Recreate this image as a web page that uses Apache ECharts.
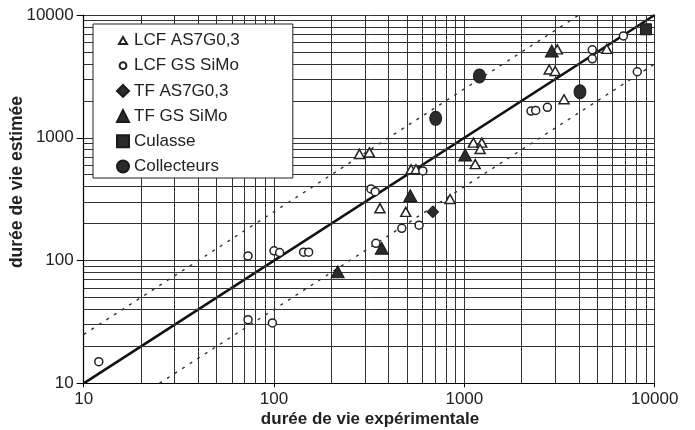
<!DOCTYPE html>
<html>
<head>
<meta charset="utf-8">
<script src="https://cdn.jsdelivr.net/npm/echarts@6.0.0/dist/echarts.min.js"></script>
<style>
html,body{margin:0;padding:0;background:#fff;}
#chart{width:695px;height:430px;}
</style>
</head>
<body>
<div id="chart"></div>
<script>
// ---- data (durée de vie expérimentale, durée de vie estimée) ----
const lcfAS7G = [[281,738],[317,760],[525,554],[557,554],[360,267],[492,249],[841,317],
  [1115,913],[1234,913],[1210,810],[1140,610],[2790,3600],[3000,3500],[3080,5250],[3340,2060],[5600,5300]];
const lcfGSSiMo = [[12,15],[73,109],[100,120],[107,116],[143,117],[152,117],[73,33],[98,31],
  [323,383],[340,364],[343,138],[469,183],[578,194],[605,537],[2240,1650],[2370,1670],[2730,1770],
  [4700,5200],[4700,4400],[6850,6750],[8100,3450]];
const tfAS7G = [[682,249]];
const tfGSSiMo = [[216,81],[368,126],[520,338],[1010,725],[2880,5100]];
const culasse = [[9000,7650]];
const collecteurs = [[707,1440],[1200,3190],[4050,2370]];

// reference lines
const lineEqual = [[10,10],[10000,10000]];
const lineUpper = [[10,25],[4000,10000]];
const lineLower = [[25,10],[10000,4000]];

// axis ticks / minor grid values
const majorTicks = [10,100,1000,10000];
const minorGrid = [20,30,40,50,60,70,80,90,200,300,400,500,600,700,800,900,2000,3000,4000,5000,6000,7000,8000,9000];

const FONT = "'Liberation Sans', Arial, sans-serif";
const INK = '#222';
const GRIDC = '#333';
const FILL = '#2b2b2b';

const chart = echarts.init(document.getElementById('chart'), null, {renderer:'canvas'});

const markData = [];
minorGrid.forEach(v => { markData.push({xAxis: v}); markData.push({yAxis: v}); });

const openStyle = {color:'#fff', borderColor:INK, borderWidth:1.5, opacity:1};
const fillStyle = {color:FILL, borderColor:'#1a1a1a', borderWidth:1, opacity:1};

// legend icons (small open markers padded inside a 12x12 box)
const iconOpenTri = 'path://M0,0M12,12M6,2.6L10,9.6L2,9.6Z';
const iconOpenCirc = 'path://M0,0M12,12M2.6,6A3.4,3.4 0 1 1 9.4,6A3.4,3.4 0 1 1 2.6,6Z';

const axisCommon = {
  type:'log', logBase:10, min:10, max:10000,
  axisLine:{show:true, lineStyle:{color:'#000', width:1.2}},
  splitLine:{show:true, lineStyle:{color:GRIDC, width:1}},
  axisLabel:{fontFamily:FONT, fontSize:17, color:INK, formatter: v => String(Math.round(v))},
};

const option = {
  animation:false,
  backgroundColor:'#fff',
  grid:{left:83.7, right:40.3, top:15, bottom:46.7},
  xAxis: Object.assign({}, axisCommon, {
    axisTick:{show:true, inside:false, length:4, lineStyle:{color:'#000'}},
    axisLabel: Object.assign({}, axisCommon.axisLabel, {margin:8})
  }),
  yAxis: Object.assign({}, axisCommon, {
    axisTick:{show:true, inside:false, length:7, lineStyle:{color:'#000'}},
    axisLabel: Object.assign({}, axisCommon.axisLabel, {margin:10})
  }),
  legend:{
    orient:'vertical', left:93, top:24,
    padding:[8,53,3,23], itemWidth:12, itemHeight:12, itemGap:8.2,
    backgroundColor:'#fff', borderColor:'#222', borderWidth:1, borderRadius:0,
    textStyle:{fontFamily:FONT, fontSize:17, color:INK},
    data:[
      {name:'LCF AS7G0,3', icon:iconOpenTri},
      {name:'LCF GS SiMo', icon:iconOpenCirc},
      {name:'TF AS7G0,3'},
      {name:'TF GS SiMo'},
      {name:'Culasse'},
      {name:'Collecteurs'}
    ],
    z:20
  },
  graphic:[
    {type:'text', x:370, y:419, z:10, style:{text:'durée de vie expérimentale', font:"bold 17px "+FONT, fill:INK, textAlign:'center', textVerticalAlign:'middle'}},
    {type:'text', x:17, y:182, rotation:Math.PI/2, z:10, style:{text:'durée de vie estimée', font:"bold 17.5px "+FONT, fill:INK, textAlign:'center', textVerticalAlign:'middle'}}
  ],
  series:[
    {name:'grid', type:'line', data:[], z:1, silent:true,
      markLine:{silent:true, symbol:['none','none'], label:{show:false}, animation:false,
        lineStyle:{color:GRIDC, width:1, type:'solid'}, data:markData}},
    {name:'ref1', type:'line', data:lineEqual, z:3, symbol:'none', silent:true,
      lineStyle:{color:'#111', width:2.6}},
    {name:'ref2', type:'line', data:lineUpper, z:3, symbol:'none', silent:true,
      lineStyle:{color:'#333', width:1.4, type:[3,6]}},
    {name:'ref3', type:'line', data:lineLower, z:3, symbol:'none', silent:true,
      lineStyle:{color:'#333', width:1.4, type:[3,6]}},
    {name:'LCF AS7G0,3', type:'scatter', data:lcfAS7G, z:5, symbol:'triangle', symbolSize:[10,9], itemStyle:openStyle},
    {name:'LCF GS SiMo', type:'scatter', data:lcfGSSiMo, z:5, symbol:'circle', symbolSize:8, itemStyle:openStyle},
    {name:'TF AS7G0,3', type:'scatter', data:tfAS7G, z:6, symbol:'diamond', symbolSize:12, itemStyle:fillStyle},
    {name:'TF GS SiMo', type:'scatter', data:tfGSSiMo, z:6, symbol:'triangle', symbolSize:[13,12], itemStyle:fillStyle},
    {name:'Culasse', type:'scatter', data:culasse, z:6, symbol:'rect', symbolSize:11, itemStyle:fillStyle},
    {name:'Collecteurs', type:'scatter', data:collecteurs, z:6, symbol:'circle', symbolSize:[12,14], itemStyle:fillStyle}
  ]
};
chart.setOption(option);
</script>
</body>
</html>
